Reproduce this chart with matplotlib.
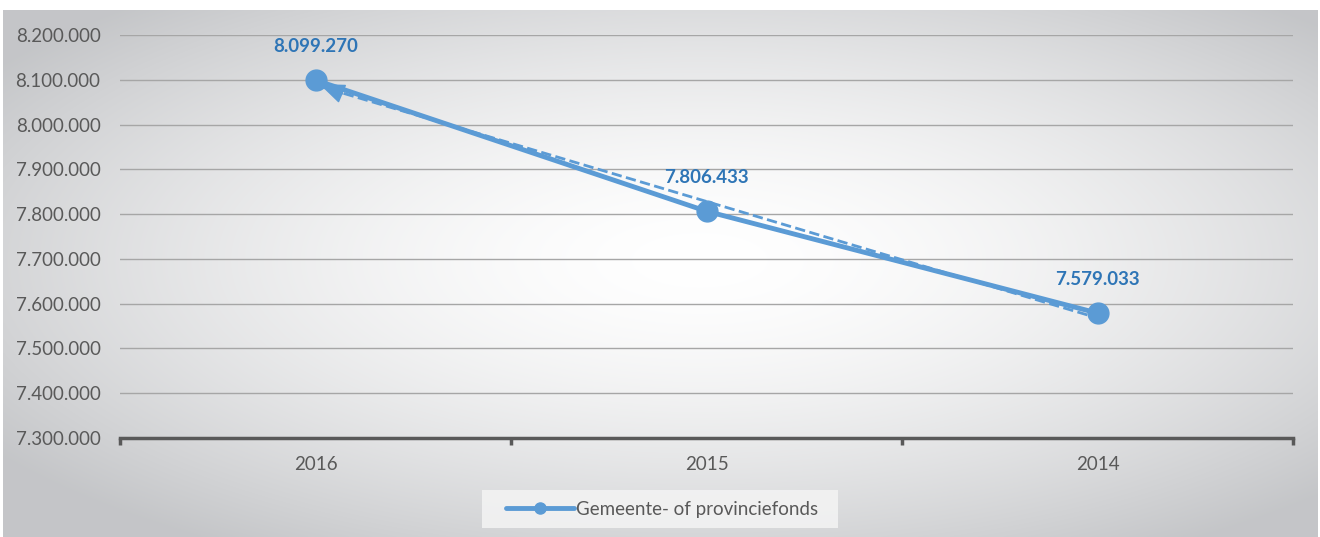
import numpy as np
import matplotlib.pyplot as plt
from matplotlib.patches import Rectangle

years = ['2016', '2015', '2014']
values = [8099270, 7806433, 7579033]
series_name = 'Gemeente- of provinciefonds'
y_ticks = [7300000, 7400000, 7500000, 7600000, 7700000, 7800000, 7900000, 8000000, 8100000, 8200000]

BLUE = '#5b9bd5'
LABEL_BLUE = '#2e75b6'
plt.rcParams['font.family'] = ['Lato', 'DejaVu Sans']


def nl_fmt(v):
    return f'{v:,.0f}'.replace(',', '.')


fig = plt.figure(figsize=(13.2, 5.37), dpi=100)

# radial gradient background of the chart area
bg = fig.add_axes([3 / 1320, 0, 1315 / 1320, 527 / 537], zorder=0)
gx, gy = np.meshgrid(np.linspace(-1, 1, 600), np.linspace(-1, 1, 300))
r = np.sqrt((gx - 0.06) ** 2 + (gy + 0.05) ** 2)
t = np.clip(r / 1.3, 0, 1) ** 1.6
c0 = np.array([1.0, 1.0, 1.0])
c1 = np.array([0.77, 0.775, 0.785])
img = c0[None, None, :] * (1 - t[..., None]) + c1[None, None, :] * t[..., None]
bg.imshow(img, aspect='auto', extent=[0, 1, 0, 1], interpolation='bilinear')
bg.set_axis_off()

ax = fig.add_axes([120 / 1320, 1 - 438 / 537, 1173 / 1320, 403 / 537], zorder=1)
ax.patch.set_alpha(0)

x = np.arange(len(years))
ax.plot(x, values, color=BLUE, lw=3.5, marker='o', ms=15, solid_capstyle='round',
        label=series_name, zorder=4)

# linear trend line (dashed)
coef = np.polyfit(x, values, 1)
trend = np.polyval(coef, x)
ax.plot(x, trend, color=BLUE, lw=2, ls='--', zorder=3)
ax.annotate('', xy=(x[0] + 0.01, trend[0] + 2000), xytext=(x[0] + 0.07, trend[0] - 20000),
            arrowprops=dict(arrowstyle='-|>,head_length=0.9,head_width=0.35', color=BLUE,
                            lw=1, mutation_scale=18, shrinkA=0, shrinkB=0), zorder=3)

for xi, v in zip(x, values):
    ax.annotate(nl_fmt(v), (xi, v), xytext=(0, 18), textcoords='offset points',
                ha='center', va='bottom', fontsize=13.5, fontweight='bold', color=LABEL_BLUE)

ax.set_xlim(-0.5, len(years) - 0.5)
ax.set_ylim(7300000, 8200000)
ax.set_yticks(y_ticks)
ax.set_yticklabels([nl_fmt(v) for v in y_ticks])
ax.set_xticks(x)
ax.set_xticklabels(years)
ax.set_xticks(np.arange(len(years) + 1) - 0.5, minor=True)

ax.grid(axis='y', color='#a6a6a6', lw=1)
ax.set_axisbelow(True)
for s in ['top', 'right', 'left']:
    ax.spines[s].set_visible(False)
ax.spines['bottom'].set_color('#595959')
ax.spines['bottom'].set_linewidth(2.5)
ax.tick_params(axis='y', length=0, pad=14, labelsize=13.5, labelcolor='#595959')
ax.tick_params(axis='x', which='major', length=0, pad=13, labelsize=13.5, labelcolor='#595959')
ax.tick_params(axis='x', which='minor', length=5, width=2.5, color='#595959')

# legend box behind a frameless legend
fig.patches.append(Rectangle((482 / 1320, 1 - 528 / 537), 356 / 1320, 38 / 537,
                             transform=fig.transFigure, facecolor='#f4f4f4', alpha=0.85,
                             edgecolor='none', zorder=1))
leg = fig.legend(loc='center', bbox_to_anchor=(662 / 1320, 1 - 509 / 537), frameon=False,
                 fontsize=13.5, handlelength=3.6, handletextpad=0.1, borderpad=0,
                 borderaxespad=0, labelcolor='#595959')
leg.set_zorder(2)
for h in leg.legend_handles:
    h.set_markersize(8)

fig.savefig('out.png', dpi=100)
